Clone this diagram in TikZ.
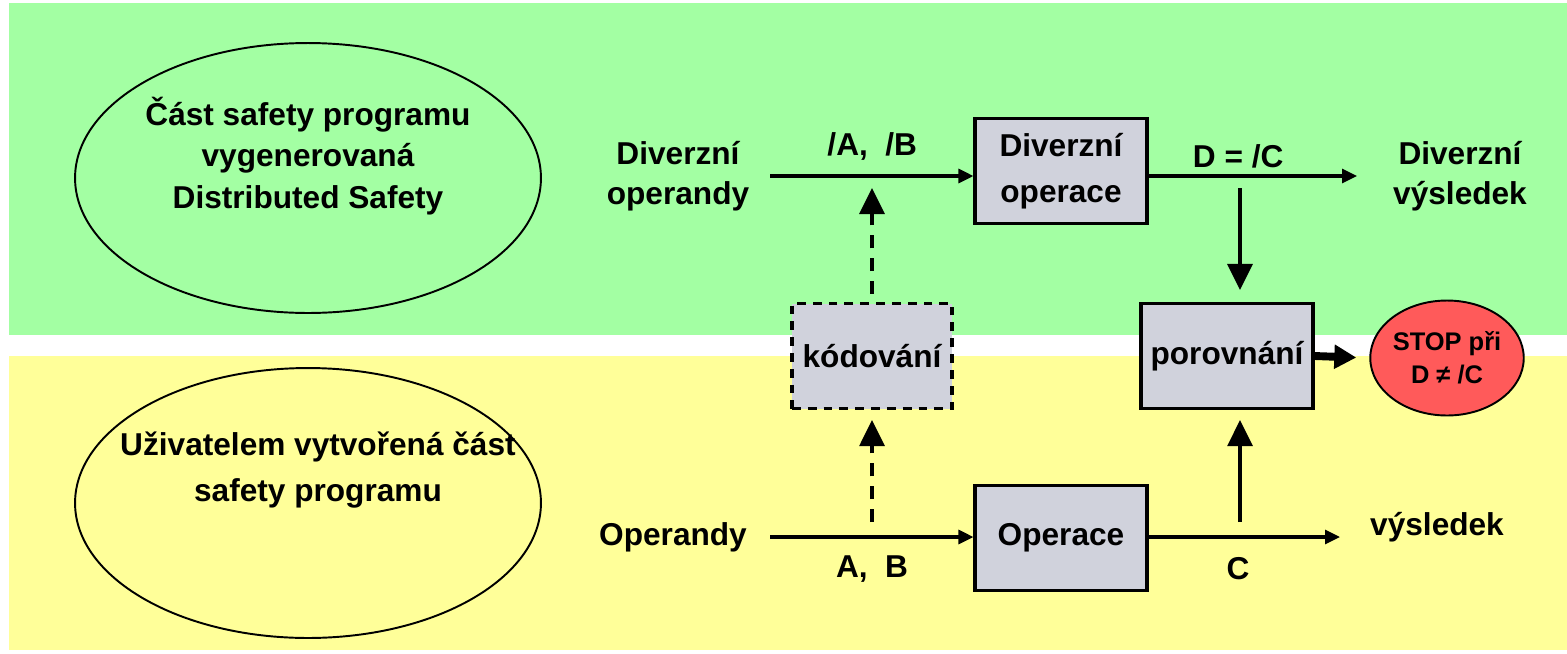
\documentclass[tikz,border=0pt]{standalone}
\usepackage{fontspec}
\setmainfont{Liberation Sans}
\setsansfont{Liberation Sans}
\usetikzlibrary{shapes.geometric, arrows.meta, positioning, calc}
\definecolor{safeGreen}{RGB}{163,255,163}
\definecolor{userYellow}{RGB}{255,255,153}
\definecolor{opGray}{RGB}{208,210,220}
\definecolor{stopRed}{RGB}{255,90,90}

\begin{document}
\begin{tikzpicture}[
    x=0.02cm, y=-0.02cm,
    every node/.style={font=\sffamily\bfseries\fontsize{18}{23}\selectfont},
    part/.style={ellipse, draw, line width=1.1pt, minimum width=9.32cm, minimum height=5.4cm},
    opbox/.style={rectangle, draw, line width=1.8pt, fill=opGray, minimum width=3.44cm, minimum height=2.1cm, align=center},
    codebox/.style={opbox, dash pattern=on 5pt off 4pt, minimum width=3.2cm},
    lbl/.style={align=center},
    arrow/.style={-{Triangle[length=0.3cm, width=0.28cm]}, line width=1.8pt},
    uparrow/.style={-{Triangle[length=0.52cm, width=0.5cm]}, line width=1.8pt},
    dasharrow/.style={uparrow, dash pattern=on 7.5pt off 5.5pt},
    bigarrow/.style={-{Triangle[length=0.44cm, width=0.46cm]}, line width=4.5pt}
]
\useasboundingbox (0,0) rectangle (1567,653);

% background bands
\fill[safeGreen] (9,3) rectangle (1567,335);
\fill[userYellow] (9,356) rectangle (1567,650);

% program parts
\node[part] (safe) at (308,178) {};
\node[lbl, font=\sffamily\bfseries\fontsize{18}{23.5}\selectfont] (safetxt) at (308,156) {Část safety programu\\vygenerovaná\\Distributed Safety};
\node[part] (user) at (308,503) {};
\node[lbl, font=\sffamily\bfseries\fontsize{18}{26}\selectfont] (usertxt) at (318,470) {Uživatelem vytvořená část\\safety programu};

% operations
\node[opbox, font=\sffamily\bfseries\fontsize{18}{26}\selectfont] (divop) at (1061,171) {Diverzní\\operace};
\node[opbox] (op) at (1061,538) {Operace};
\node[codebox] (enc) at (872,356) {kódování};
\node[opbox] (cmp) at (1227,356) {porovnání};
\node[ellipse, draw, line width=1.1pt, fill=stopRed, minimum width=2.96cm, minimum height=2.3cm, align=center, inner sep=0pt,
      font=\sffamily\bfseries\fontsize{14.5}{19}\selectfont] (stop) at (1447,358) {STOP při\\D ≠ /C};

% inputs and outputs
\node[lbl] (dopnd) at (678,176) {Diverzní\\operandy};
\node[lbl] (opnd) at (673,537) {Operandy};
\node[lbl] (dres) at (1460,176) {Diverzní\\výsledek};
\node[lbl] (res) at (1437,527) {výsledek};

% taps
\coordinate (dtap) at (1240,188);
\coordinate (ctap) at (1240,522);
\coordinate (atap) at (872,522);
\coordinate (btap) at (872,188);

% connectors
\draw[arrow, shorten <=0.3cm] (dopnd.east) -- (dopnd.east -| divop.west)
    node[pos=0.536, yshift=0.6cm] (ablbl) {/A,\ \ /B};
\draw[arrow, shorten >=0.6cm] (divop.east |- dopnd) -- (dopnd -| dres.west)
    node[pos=0.376, yshift=0.4cm] (dlbl) {D = /C};
\draw[arrow, shorten <=0.34cm] (opnd.east) -- (opnd.east -| op.west)
    node[pos=0.54, yshift=-0.64cm] (ablbl2) {A,\ \ B};
\draw[arrow, shorten >=0.48cm] (op.east |- opnd) -- (opnd -| res.west)
    node[pos=0.415, yshift=-0.64cm] (clbl) {C};
\draw[uparrow, shorten >=0.24cm] (dtap) -- (dtap |- cmp.north);
\draw[uparrow, shorten >=0.2cm] (ctap) -- (ctap |- cmp.south);
\draw[dasharrow, shorten >=0.2cm] (atap) -- (enc.south);
\draw[dasharrow, shorten <=0.16cm] (enc.north) -- (btap);
\draw[bigarrow, shorten >=0.26cm] (cmp.east) -- (stop.west);

\end{tikzpicture}
\end{document}
